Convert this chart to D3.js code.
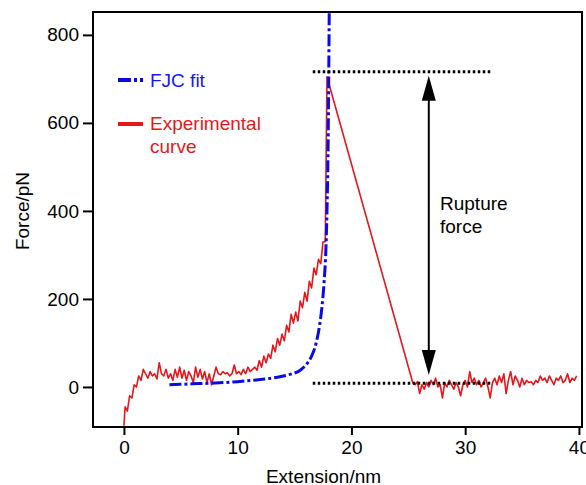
<!DOCTYPE html>
<html>
<head>
<meta charset="utf-8">
<script src="https://cdn.jsdelivr.net/npm/d3@7"></script>
<style>
  body { margin: 0; background: #fff; }
  text { font-family: "Liberation Sans", Arial, Helvetica, sans-serif; }
</style>
</head>
<body>
<script>
const WIDTH = 586
const HEIGHT = 485
const M = { left: 93, top: 12, right: 4, bottom: 58 }
const W = WIDTH - M.left - M.right
const H = HEIGHT - M.top - M.bottom

// experimental curve (nm, pN)
const expX = [0, 0.1, 0.3, 0.5, 0.7, 0.9, 1.1, 1.3, 1.5, 1.7, 1.9, 2.1, 2.3, 2.5, 2.7, 2.9, 3.1, 3.3, 3.5, 3.7, 3.9,
  4.1, 4.3, 4.5, 4.7, 4.9, 5.1, 5.3, 5.5, 5.7, 5.9, 6.1, 6.3, 6.5, 6.7, 6.9, 7.1, 7.3, 7.5, 7.7, 7.9,
  8.1, 8.3, 8.5, 8.7, 8.9, 9.1, 9.3, 9.5, 9.7, 9.9, 10.1, 10.3, 10.5, 10.7, 10.9, 11.1, 11.3, 11.5, 11.7, 11.9,
  12.1, 12.3, 12.5, 12.7, 12.9, 13.1, 13.3, 13.5, 13.7, 13.9, 14.1, 14.3, 14.5, 14.7, 14.9, 15.1, 15.3, 15.5, 15.7, 15.9,
  16.1, 16.3, 16.5, 16.7, 16.9, 17.1, 17.3, 17.4, 17.5, 17.7, 17.85,
  25.4, 25.6, 25.8, 26.0, 26.2, 26.4, 26.6, 26.8, 27.0, 27.2, 27.4, 27.6, 27.8, 28.0, 28.2, 28.4, 28.6, 28.8, 29.0, 29.2,
  29.4, 29.6, 29.8, 30.0, 30.2, 30.4, 30.6, 30.8, 31.0, 31.2, 31.4, 31.6, 31.8, 32.0, 32.2, 32.4, 32.6, 32.8, 33.0, 33.2,
  33.4, 33.6, 33.8, 34.0, 34.2, 34.4, 34.6, 34.8, 35.0, 35.2, 35.4, 35.6, 35.8, 36.0, 36.2, 36.4, 36.6, 36.8, 37.0, 37.2,
  37.4, 37.6, 37.8, 38.0, 38.2, 38.4, 38.6, 38.8, 39.0, 39.2, 39.4, 39.6, 39.8]
const expY = [-88, -45, -55, -20, -25, 5, 0, 25, 15, 40, 30, 20, 35, 25, 30, 18, 55, 30, 25, 40, 20,
  30, 15, 40, 22, 45, 20, 38, 15, 35, 25, 10, 45, 22, 40, 18, 35, 10, 30, 5, 25,
  45, 30, 28, 35, 30, 32, 25, 30, 50, 30, 35, 28, 40, 30, 45, 35, 40, 45, 38, 60,
  45, 70, 55, 75, 65, 95, 80, 110, 95, 120, 105, 140, 125, 165, 145, 170, 150, 195, 180, 215,
  195, 240, 225, 270, 255, 290, 280, 305, 330, 330, 705,
  9, 5, 12, -15, 5, -5, 10, 0, 15, 5, 20, 0, 5, -25, 10, 0, 15, 5, -5, 10,
  0, -20, 5, 15, 0, 35, 10, 20, 5, 15, 0, 10, 20, 0, -25, 10, 20, 5, 25, 10,
  30, -15, 15, 35, 5, 25, 15, 0, 20, 5, 15, 10, 12, 5, 15, 10, 25, 15, 20, 10,
  25, 15, 5, 20, 15, 25, 10, 15, 30, 10, 20, 15, 25]

// FJC fit
const fjcX = [4.0, 6.0, 8.0, 10.0, 12.0, 13.5, 14.5, 15.5, 16.0, 16.5, 16.9, 17.2, 17.4, 17.6, 17.75, 17.85, 17.95, 18.05]
const fjcY = [5, 7, 9, 12, 17, 22, 28, 38, 50, 70, 100, 140, 180, 240, 310, 400, 550, 860]

const xTicks = [0, 10, 20, 30, 40]
const yTicks = [0, 200, 400, 600, 800]

// rupture force markers
const levelY = [716, 8.4]
const levelX = [16.6, 32.3]
const arrowX = 26.8
const arrowY = [707, 27]

const RED = '#e8161b'
const BLUE = '#0a0ae6'

const svg = d3.select('body').append('svg').attr('width', WIDTH).attr('height', HEIGHT)
const g = svg.append('g').attr('transform', `translate(${M.left},${M.top})`)

const x = d3.scaleLinear().domain([-2.72, 40.27]).range([0, W])
const y = d3.scaleLinear().domain([852, -91]).range([0, H])

g.append('clipPath').attr('id', 'clip').append('rect').attr('width', W).attr('height', H)

const xAxis = g.append('g').attr('transform', `translate(0,${H})`)
  .call(d3.axisBottom(x).tickValues(xTicks).tickSize(8).tickPadding(6))
const yAxis = g.append('g')
  .call(d3.axisLeft(y).tickValues(yTicks).tickSize(10).tickPadding(4))
for (const a of [xAxis, yAxis]) {
  a.select('.domain').remove()
  a.selectAll('line').attr('stroke', '#000').attr('stroke-width', 2)
  a.selectAll('text').attr('font-size', 19).attr('fill', '#000')
    .attr('font-family', '"Liberation Sans", Arial, sans-serif')
}

const plot = g.append('g').attr('clip-path', 'url(#clip)')

const line = d3.line().x(d => x(d[0])).y(d => y(d[1]))

plot.append('path')
  .datum(d3.zip(expX, expY))
  .attr('d', line)
  .attr('fill', 'none')
  .attr('stroke', RED)
  .attr('stroke-width', 1.6)
  .attr('stroke-linejoin', 'round')

plot.append('path')
  .datum(d3.zip(fjcX, fjcY))
  .attr('d', d3.line().curve(d3.curveMonotoneX).x(d => x(d[0])).y(d => y(d[1])))
  .attr('fill', 'none')
  .attr('stroke', BLUE)
  .attr('stroke-width', 3)
  .attr('stroke-dasharray', '12,3,3,3')

// dotted levels
g.selectAll('.level').data(levelY).enter().append('line')
  .attr('x1', x(levelX[0])).attr('x2', x(levelX[1]))
  .attr('y1', d => y(d)).attr('y2', d => y(d))
  .attr('stroke', '#000').attr('stroke-width', 3).attr('stroke-dasharray', '2.5,2.5')

// double arrow
const ax = x(arrowX)
const headH = 25, headW = 7
g.append('line')
  .attr('x1', ax).attr('x2', ax)
  .attr('y1', y(arrowY[0]) + headH - 2).attr('y2', y(arrowY[1]) - headH + 2)
  .attr('stroke', '#000').attr('stroke-width', 2)
g.append('path')
  .attr('d', `M${ax},${y(arrowY[0])}L${ax - headW},${y(arrowY[0]) + headH}L${ax + headW},${y(arrowY[0]) + headH}Z`)
g.append('path')
  .attr('d', `M${ax},${y(arrowY[1])}L${ax - headW},${y(arrowY[1]) - headH}L${ax + headW},${y(arrowY[1]) - headH}Z`)

// frame
g.append('rect').attr('width', W).attr('height', H)
  .attr('fill', 'none').attr('stroke', '#000').attr('stroke-width', 2)

// legend
const leg = svg.append('g')
leg.append('line').attr('x1', 118).attr('x2', 143).attr('y1', 80).attr('y2', 80)
  .attr('stroke', BLUE).attr('stroke-width', 4).attr('stroke-dasharray', '13,3,3,3,3')
leg.append('text').attr('x', 150).attr('y', 87).attr('font-size', 19).attr('fill', '#1515ff').text('FJC fit')
leg.append('line').attr('x1', 118).attr('x2', 143).attr('y1', 124).attr('y2', 124)
  .attr('stroke', RED).attr('stroke-width', 4)
leg.append('text').attr('x', 150).attr('y', 130).attr('font-size', 19).attr('fill', RED).text('Experimental')
leg.append('text').attr('x', 150).attr('y', 153).attr('font-size', 19).attr('fill', RED).text('curve')

svg.append('text').attr('x', 440).attr('y', 210).attr('font-size', 19).text('Rupture')
svg.append('text').attr('x', 440).attr('y', 233).attr('font-size', 19).text('force')

// axis titles
svg.append('text').attr('x', M.left + W / 2 - 14).attr('y', 483)
  .attr('text-anchor', 'middle').attr('font-size', 19).text('Extension/nm')
svg.append('text').attr('transform', 'translate(29,211) rotate(-90)')
  .attr('text-anchor', 'middle').attr('font-size', 19).text('Force/pN')
</script>
</body>
</html>
